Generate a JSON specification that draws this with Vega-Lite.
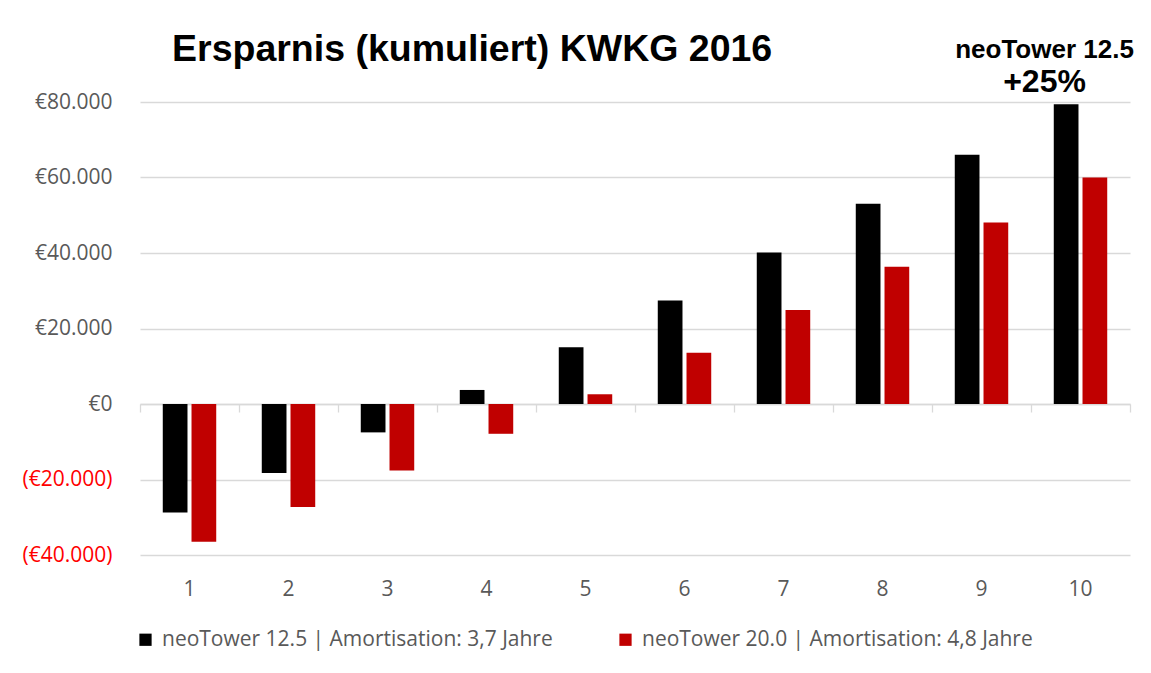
{
  "$schema": "https://vega.github.io/schema/vega-lite/v6.json",
  "width": 990,
  "height": 453,
  "autosize": "none",
  "padding": {"left": 140, "top": 102, "right": 21, "bottom": 118},
  "background": "white",
  "config": {"view": {"stroke": null}},
  "title": {
    "text": "Ersparnis (kumuliert) KWKG 2016",
    "font": "Liberation Sans",
    "fontSize": 37.5,
    "fontWeight": "bold",
    "color": "#000000",
    "anchor": "start",
    "dx": 150,
    "offset": -32
  },
  "datasets": {
    "bars": [
      {"year": 1, "series": "neoTower 12.5 | Amortisation: 3,7 Jahre", "value": -28770},
      {"year": 1, "series": "neoTower 20.0 | Amortisation: 4,8 Jahre", "value": -36470},
      {"year": 2, "series": "neoTower 12.5 | Amortisation: 3,7 Jahre", "value": -18250},
      {"year": 2, "series": "neoTower 20.0 | Amortisation: 4,8 Jahre", "value": -27280},
      {"year": 3, "series": "neoTower 12.5 | Amortisation: 3,7 Jahre", "value": -7520},
      {"year": 3, "series": "neoTower 20.0 | Amortisation: 4,8 Jahre", "value": -17610},
      {"year": 4, "series": "neoTower 12.5 | Amortisation: 3,7 Jahre", "value": 3720},
      {"year": 4, "series": "neoTower 20.0 | Amortisation: 4,8 Jahre", "value": -7890},
      {"year": 5, "series": "neoTower 12.5 | Amortisation: 3,7 Jahre", "value": 15060},
      {"year": 5, "series": "neoTower 20.0 | Amortisation: 4,8 Jahre", "value": 2580},
      {"year": 6, "series": "neoTower 12.5 | Amortisation: 3,7 Jahre", "value": 27440},
      {"year": 6, "series": "neoTower 20.0 | Amortisation: 4,8 Jahre", "value": 13550},
      {"year": 7, "series": "neoTower 12.5 | Amortisation: 3,7 Jahre", "value": 40100},
      {"year": 7, "series": "neoTower 20.0 | Amortisation: 4,8 Jahre", "value": 24880},
      {"year": 8, "series": "neoTower 12.5 | Amortisation: 3,7 Jahre", "value": 53040},
      {"year": 8, "series": "neoTower 20.0 | Amortisation: 4,8 Jahre", "value": 36390},
      {"year": 9, "series": "neoTower 12.5 | Amortisation: 3,7 Jahre", "value": 66050},
      {"year": 9, "series": "neoTower 20.0 | Amortisation: 4,8 Jahre", "value": 48080},
      {"year": 10, "series": "neoTower 12.5 | Amortisation: 3,7 Jahre", "value": 79400},
      {"year": 10, "series": "neoTower 20.0 | Amortisation: 4,8 Jahre", "value": 60030}
    ]
  },
  "layer": [
    {
      "layer": [
        {
          "data": {"name": "bars"},
          "mark": {"type": "bar"},
          "encoding": {
            "x": {
              "field": "year",
              "type": "ordinal",
              "scale": {"paddingInner": 0.46, "paddingOuter": 0.23},
              "axis": {
                "orient": "bottom",
                "title": null,
                "domain": false,
                "ticks": false,
                "grid": false,
                "labelAngle": 0,
                "labelFont": "Open Sans",
                "labelFontSize": 21,
                "labelColor": "#595959",
                "labelPadding": 23
              }
            },
            "xOffset": {
              "field": "series",
              "type": "nominal",
              "scale": {"paddingInner": 0.14, "paddingOuter": 0}
            },
            "y": {
              "field": "value",
              "type": "quantitative",
              "scale": {"domain": [-40000, 80000], "nice": false},
              "axis": {
                "title": null,
                "values": [-40000, -20000, 0, 20000, 40000, 60000, 80000],
                "domain": false,
                "ticks": false,
                "grid": true,
                "gridColor": "#d9d9d9",
                "gridWidth": 1.3,
                "labelFont": "Open Sans",
                "labelFontSize": 21,
                "labelPadding": 28,
                "labelColor": {"condition": {"test": "datum.value < 0", "value": "#FF0000"}, "value": "#595959"},
                "labelExpr": "datum.value < 0 ? '(€' + replace(format(-datum.value, ','), ',', '.') + ')' : '€' + replace(format(datum.value, ','), ',', '.')"
              }
            },
            "color": {
              "field": "series",
              "type": "nominal",
              "scale": {"range": ["#000000", "#C00000"]},
              "legend": {
                "title": null,
                "orient": "none",
                "direction": "horizontal",
                "legendX": -5,
                "legendY": 527,
                "symbolType": "square",
                "symbolSize": 150,
                "symbolStrokeWidth": 0,
                "labelFont": "Open Sans",
                "labelFontSize": 21,
                "labelColor": "#595959",
                "labelLimit": 0,
                "labelOffset": 6,
                "columnPadding": 62
              }
            }
          }
        },
        {
          "data": {"values": [{"year": 10, "v": 93800, "t": "neoTower 12.5"}]},
          "mark": {"type": "text", "font": "Liberation Sans", "fontWeight": "bold", "fontSize": 26, "color": "#000000", "dx": -36, "baseline": "middle"},
          "encoding": {
            "x": {"field": "year", "type": "ordinal", "axis": null},
            "y": {"field": "v", "type": "quantitative"},
            "text": {"field": "t"}
          }
        },
        {
          "data": {"values": [{"year": 10, "v": 85300, "t": "+25%"}]},
          "mark": {"type": "text", "font": "Liberation Sans", "fontWeight": "bold", "fontSize": 32, "color": "#000000", "dx": -36, "baseline": "middle"},
          "encoding": {
            "x": {"field": "year", "type": "ordinal", "axis": null},
            "y": {"field": "v", "type": "quantitative"},
            "text": {"field": "t"}
          }
        }
      ],
      "resolve": {"axis": {"x": "independent"}}
    },
    {
      "data": {"name": "bars"},
      "mark": {"type": "point", "opacity": 0},
      "encoding": {
        "x": {
          "field": "year",
          "type": "ordinal",
          "scale": {"paddingInner": 0, "paddingOuter": 0},
          "axis": {
            "orient": "bottom",
            "title": null,
            "labels": false,
            "grid": false,
            "domain": true,
            "domainColor": "#d9d9d9",
            "domainWidth": 1.3,
            "ticks": true,
            "tickBand": "extent",
            "tickColor": "#d9d9d9",
            "tickWidth": 1.3,
            "tickSize": 8,
            "offset": -151
          }
        },
        "y": {"field": "value", "type": "quantitative"}
      }
    }
  ],
  "resolve": {"scale": {"x": "independent"}, "axis": {"x": "independent", "y": "shared"}}
}
